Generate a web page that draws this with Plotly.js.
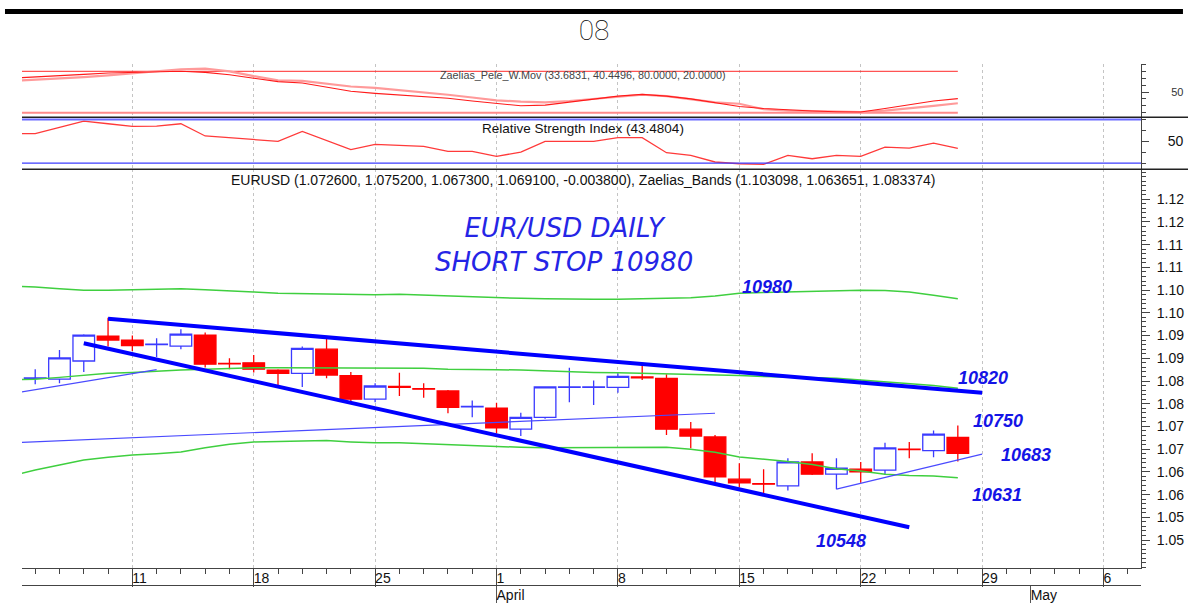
<!DOCTYPE html>
<html><head><meta charset="utf-8">
<script src="https://cdn.plot.ly/plotly-3.0.1.min.js"></script>
<style>html,body{margin:0;padding:0;background:#fff;}#chart{width:1188px;height:616px;}</style>
</head><body><div id="chart"></div>
<script>
// ---------- axis calendar (weekdays) ----------
const axisDays = ['2024-03-04','2024-03-05','2024-03-06','2024-03-07','2024-03-08',
 '2024-03-11','2024-03-12','2024-03-13','2024-03-14','2024-03-15',
 '2024-03-18','2024-03-19','2024-03-20','2024-03-21','2024-03-22',
 '2024-03-25','2024-03-26','2024-03-27','2024-03-28','2024-03-29',
 '2024-04-01','2024-04-02','2024-04-03','2024-04-04','2024-04-05',
 '2024-04-08','2024-04-09','2024-04-10','2024-04-11','2024-04-12',
 '2024-04-15','2024-04-16','2024-04-17','2024-04-18','2024-04-19',
 '2024-04-22','2024-04-23','2024-04-24','2024-04-25','2024-04-26',
 '2024-04-29','2024-04-30','2024-05-01','2024-05-02','2024-05-03',
 '2024-05-06','2024-05-07','2024-05-08','2024-05-09','2024-05-10'];
const weekTickDays = ['2024-03-11','2024-03-18','2024-03-25','2024-04-01','2024-04-08','2024-04-15','2024-04-22','2024-04-29','2024-05-06'];
const weekTickLabels = ['11','18','25','1','8','15','22','29','6'];
const monthTickDays = ['2024-04-01','2024-05-01'];
const monthTickLabels = ['April','May'];

// ---------- EURUSD daily candles ----------
const candleDays = axisDays.slice(1, 40);
const open  = [1.0856,1.0854,1.0894,1.0949,1.0940,1.0930,1.0927,1.0951,1.0889,1.0890,1.0874,1.0867,1.0920,1.0862,1.0810,1.0838,1.0833,1.0828,1.0793,1.0790,1.0744,1.0770,1.0836,1.0836,1.0836,1.0859,1.0856,1.0744,1.0727,1.0634,1.0624,1.0619,1.0672,1.0645,1.0656,1.0654,1.0700,1.0697,1.0726];
const high  = [1.0876,1.0918,1.0953,1.0989,1.0950,1.0944,1.0964,1.0957,1.0900,1.0907,1.0876,1.0926,1.0944,1.0870,1.0845,1.0868,1.0845,1.0830,1.0807,1.0802,1.0780,1.0838,1.0879,1.0851,1.0867,1.0885,1.0865,1.0760,1.0731,1.0669,1.0656,1.0680,1.0691,1.0680,1.0672,1.0714,1.0716,1.0741,1.0752];
const low   = [1.0843,1.0845,1.0870,1.0926,1.0916,1.0903,1.0920,1.0880,1.0876,1.0869,1.0839,1.0837,1.0856,1.0804,1.0803,1.0817,1.0813,1.0779,1.0770,1.0735,1.0729,1.0767,1.0803,1.0797,1.0824,1.0852,1.0731,1.0702,1.0626,1.0616,1.0603,1.0609,1.0643,1.0612,1.0626,1.0643,1.0680,1.0682,1.0673];
const close = [1.0857,1.0901,1.0951,1.0940,1.0928,1.0931,1.0953,1.0887,1.0888,1.0876,1.0867,1.0922,1.0863,1.0810,1.0839,1.0836,1.0832,1.0792,1.0794,1.0747,1.0770,1.0837,1.0837,1.0837,1.0860,1.0857,1.0744,1.0729,1.0639,1.0626,1.0623,1.0672,1.0645,1.0658,1.0650,1.0703,1.0699,1.0733,1.0691];

// ---------- indicators (Mar 4 .. Apr 26) ----------
const indicatorDays = axisDays.slice(0, 40);
const bandUpper  = [1.1059,1.1057,1.1053,1.1050,1.1050,1.1051,1.1052,1.1053,1.1051,1.1049,1.1046,1.1043,1.1042,1.1042,1.1041,1.1040,1.1041,1.1039,1.1037,1.1035,1.1033,1.1032,1.1031,1.1030,1.1030,1.1030,1.1031,1.1031,1.1033,1.1037,1.1043,1.1045,1.1046,1.1047,1.1048,1.1050,1.1049,1.1046,1.1039,1.1031];
const bandMiddle = [1.0853,1.0854,1.0858,1.0862,1.0867,1.0869,1.0872,1.0874,1.0876,1.0878,1.0879,1.0879,1.0879,1.0879,1.0879,1.0878,1.0878,1.0878,1.0876,1.0876,1.0875,1.0874,1.0872,1.0870,1.0869,1.0868,1.0867,1.0865,1.0864,1.0863,1.0862,1.0860,1.0859,1.0858,1.0856,1.0852,1.0848,1.0845,1.0840,1.0834];
const bandLower  = [1.0641,1.0654,1.0665,1.0676,1.0682,1.0687,1.0690,1.0694,1.0703,1.0711,1.0716,1.0717,1.0718,1.0719,1.0716,1.0714,1.0714,1.0712,1.0710,1.0708,1.0705,1.0704,1.0703,1.0703,1.0703,1.0703,1.0704,1.0704,1.0700,1.0693,1.0683,1.0678,1.0673,1.0666,1.0657,1.0652,1.0645,1.0642,1.0641,1.0637];
const peleFast = [70,71.5,73.5,75.5,77.5,78.5,79.5,80,78.5,75,70,65,63,57,51,48,46,44,41,37,33,30,31,35,40,44,46.5,44,40,35,29,26,24,22.5,21.5,21,26,31,37,40.45];
const peleSlow = [66,67.5,69.5,71.5,74,77,80,83,84,80,73,67,66,62,58,56,53,50,46,42,38,36,35,37,40,44,46,44,39,35,33,25,23,22,21.5,21,23,26,30,33.68];
const peleLevels = [80, 20];
const rsi = [57.0,57.0,62.8,68.5,66.1,63.7,63.9,66.1,54.9,53.3,51.7,50.0,59.1,50.7,42.3,47.2,46.3,45.3,40.7,40.7,36.2,40.1,50.0,50.0,50.0,53.3,53.3,39.5,37.1,31.0,29.4,28.8,37.1,34.0,37.1,36.2,44.7,43.8,48.4,43.48];
const rsiLevels = [70, 30];

// ---------- hand-drawn trend lines ----------
const channelTopDays = ['2024-03-08','2024-04-29'];   const channelTopValues = [1.0987,1.0824];
const channelLowDays = ['2024-03-07','2024-04-24'];   const channelLowValues = [1.0933,1.0528];
const thinLeftDays   = ['2024-03-04','2024-03-12'];   const thinLeftValues   = [1.0822,1.0875];
const thinLongDays   = ['2024-03-04','2024-04-12'];   const thinLongValues   = [1.0714,1.0779];
const thinRightDays  = ['2024-04-19','2024-04-29'];   const thinRightValues  = [1.0612,1.0689];

// ---------- price axis ticks ----------
const yTickVals = [1.050,1.055,1.060,1.065,1.070,1.075,1.080,1.085,1.090,1.095,1.100,1.105,1.110,1.115,1.120,1.125];
const yTickText = ['1.05','1.05','1.06','1.06','1.07','1.07','1.08','1.08','1.09','1.09','1.10','1.10','1.11','1.11','1.12','1.12'];

const pos = d => axisDays.indexOf(d);
const P = arr => arr.map(pos);
const FONT = 'Liberation Sans, Arial, sans-serif';
const XR = [0.456, 46.544];
const LBL = {family:FONT, size:18, style:'italic', weight:700, color:'#1414e6'};

const traces = [
  {type:'scatter', mode:'lines', x:P(indicatorDays), y:bandUpper, xaxis:'x', yaxis:'y', line:{color:'#3fcf3f', width:1.5}},
  {type:'scatter', mode:'lines', x:P(indicatorDays), y:bandMiddle, xaxis:'x', yaxis:'y', line:{color:'#3fcf3f', width:1.5}},
  {type:'scatter', mode:'lines', x:P(indicatorDays), y:bandLower, xaxis:'x', yaxis:'y', line:{color:'#3fcf3f', width:1.5}},
  {type:'scatter', mode:'lines', x:P(thinLeftDays), y:thinLeftValues, line:{color:'#4a4aff', width:1.2}},
  {type:'scatter', mode:'lines', x:P(thinLongDays), y:thinLongValues, line:{color:'#4a4aff', width:1.2}},
  {type:'scatter', mode:'lines', x:P(thinRightDays), y:thinRightValues, line:{color:'#4a4aff', width:1.2}},
  {type:'candlestick', x:P(candleDays), open:open, high:high, low:low, close:close, xaxis:'x', yaxis:'y',
   whiskerwidth:0,
   increasing:{line:{color:'#3b3bff', width:1.3}, fillcolor:'#ffffff'},
   decreasing:{line:{color:'#ff0000', width:1.3}, fillcolor:'#ff0000'}},
  {type:'scatter', mode:'lines', x:P(channelTopDays), y:channelTopValues, line:{color:'#0000ff', width:4}},
  {type:'scatter', mode:'lines', x:P(channelLowDays), y:channelLowValues, line:{color:'#0000ff', width:4}},
  // RSI panel
  {type:'scatter', mode:'lines', x:P(indicatorDays), y:rsi, xaxis:'x', yaxis:'y2', line:{color:'#ff3a3a', width:1.3}},
  // Pele panel
  {type:'scatter', mode:'lines', x:[pos(indicatorDays[0]), pos(indicatorDays[indicatorDays.length-1])], y:[peleLevels[0],peleLevels[0]], xaxis:'x', yaxis:'y3', line:{color:'#ff2a2a', width:1}},
  {type:'scatter', mode:'lines', x:[pos(indicatorDays[0]), pos(indicatorDays[indicatorDays.length-1])], y:[peleLevels[1],peleLevels[1]], xaxis:'x', yaxis:'y3', line:{color:'#ff8a8a', width:2}},
  {type:'scatter', mode:'lines', x:P(indicatorDays), y:peleSlow, xaxis:'x', yaxis:'y3', line:{color:'#ff9a9a', width:2.2}},
  {type:'scatter', mode:'lines', x:P(indicatorDays), y:peleFast, xaxis:'x', yaxis:'y3', line:{color:'#ff1a1a', width:1.1}},
  // empty carriers so the label / month axes get drawn
  {type:'scatter', mode:'lines', x:P(weekTickDays), y:weekTickDays.map(()=>null), xaxis:'x2', yaxis:'y'},
  {type:'scatter', mode:'lines', x:P(monthTickDays), y:monthTickDays.map(()=>null), xaxis:'x3', yaxis:'y'},
  {type:'scatter', mode:'lines', x:P(monthTickDays), y:monthTickDays.map(()=>null), xaxis:'x4', yaxis:'y'}
];

const yCommon = {side:'right', anchor:'x', showgrid:false, zeroline:false, showline:true, linecolor:'#444', linewidth:1,
  ticks:'outside', tickcolor:'#444', fixedrange:true};

const layout = {
  width:1188, height:616,
  margin:{l:22, r:47, t:64, b:14},
  paper_bgcolor:'#ffffff', plot_bgcolor:'#ffffff',
  showlegend:false,
  boxgap:0.11, boxgroupgap:0,
  font:{family:FONT, color:'#111'},
  title:{text:'08', x:0.5, xanchor:'center', y:0.951, yanchor:'middle', font:{family:'Roboto, sans-serif', size:28, weight:100, color:'#000'}},
  xaxis:{domain:[0,1], anchor:'y', range:XR, fixedrange:true, rangeslider:{visible:false},
    showgrid:true, gridcolor:'#c4c4c4', griddash:'dot', gridwidth:1, zeroline:false,
    tickmode:'array', tickvals:P(weekTickDays), ticks:'outside', ticklen:18, tickcolor:'#444', showticklabels:false,
    showline:true, linecolor:'#444', linewidth:1.2,
    minor:{tickmode:'linear', tick0:0, dtick:1, ticks:'outside', ticklen:5, tickcolor:'#444', showgrid:false}},
  xaxis2:{overlaying:'x', anchor:'y', range:XR, fixedrange:true, showgrid:false, zeroline:false, showline:false,
    tickmode:'array', tickvals:P(weekTickDays), ticktext:weekTickLabels, ticks:'', ticklabelposition:'outside right',
    tickfont:{family:FONT, size:14, color:'#111'}},
  xaxis3:{overlaying:'x', anchor:'free', position:0.0316, range:XR, fixedrange:true, showgrid:false, zeroline:false,
    showline:true, linecolor:'#444', linewidth:1.2,
    tickmode:'array', tickvals:P(monthTickDays), ticks:'outside', ticklen:17, tickcolor:'#555', showticklabels:false},
  xaxis4:{overlaying:'x', anchor:'free', position:0.0316, range:XR, fixedrange:true, showgrid:false, zeroline:false, showline:false,
    tickmode:'array', tickvals:P(monthTickDays), ticktext:monthTickLabels, ticks:'', ticklabelposition:'outside right',
    tickfont:{family:FONT, size:14, color:'#111'}},
  yaxis:Object.assign({}, yCommon, {domain:[0.0641,0.8043], range:[1.04395,1.1316],
    tickmode:'array', tickvals:yTickVals, ticktext:yTickText, ticklen:8, ticklabelstandoff:4,
    tickfont:{family:FONT, size:14, color:'#111'},
    minor:{tickmode:'linear', tick0:1.05, dtick:0.001, ticks:'outside', ticklen:4, tickcolor:'#444', showgrid:false}}),
  yaxis2:Object.assign({}, yCommon, {domain:[0.8043,0.9009], range:[24.31,72.02],
    tickmode:'array', tickvals:[50], ticktext:['50'], ticklen:7, ticklabelstandoff:16,
    tickfont:{family:FONT, size:14, color:'#111'},
    minor:{tickmode:'linear', tick0:0, dtick:10, ticks:'outside', ticklen:4, tickcolor:'#444', showgrid:false}}),
  yaxis3:Object.assign({}, yCommon, {domain:[0.9009,1], range:[13.33,90.58],
    tickmode:'array', tickvals:[50], ticktext:['50'], ticklen:7, ticklabelstandoff:20,
    tickfont:{family:FONT, size:11, color:'#333'},
    minor:{tickmode:'linear', tick0:0, dtick:10, ticks:'outside', ticklen:4, tickcolor:'#444', showgrid:false}}),
  shapes:[
    {type:'rect', xref:'paper', yref:'paper', x0:-0.0152, x1:1.0375, y0:1.0929, y1:1.1022, fillcolor:'#000', line:{width:0}},
    {type:'line', xref:'paper', yref:'y2', x0:0, x1:1, y0:rsiLevels[0], y1:rsiLevels[0], line:{color:'#6a6aff', width:2}},
    {type:'line', xref:'paper', yref:'y2', x0:0, x1:1, y0:rsiLevels[1], y1:rsiLevels[1], line:{color:'#3c3cff', width:1.2}},
    {type:'line', xref:'paper', yref:'paper', x0:0, x1:1.042, y0:0.9009, y1:0.9009, line:{color:'#222', width:1.5}},
    {type:'line', xref:'paper', yref:'paper', x0:0, x1:1.042, y0:0.8043, y1:0.8043, line:{color:'#222', width:1.5}}
  ],
  annotations:[
    {xref:'paper', yref:'paper', x:0.5009, y:0.979, text:'Zaelias_Pele_W.Mov (33.6831, 40.4496, 80.0000, 20.0000)', showarrow:false, xanchor:'center', yanchor:'middle', font:{family:FONT, size:10.8, color:'#444'}},
    {xref:'paper', yref:'paper', x:0.5009, y:0.881, text:'Relative Strength Index (43.4804)', showarrow:false, xanchor:'center', yanchor:'middle', font:{family:FONT, size:13.5, color:'#111'}},
    {xref:'paper', yref:'paper', x:0.5009, y:0.7844, text:'EURUSD (1.072600, 1.075200, 1.067300, 1.069100, -0.003800), Zaelias_Bands (1.103098, 1.063651, 1.083374)', showarrow:false, xanchor:'center', yanchor:'middle', font:{family:FONT, size:14, color:'#111'}},
    {xref:'paper', yref:'paper', x:0.4844, y:0.6636, text:'EUR/USD DAILY<br>SHORT STOP 10980', showarrow:false, xanchor:'center', yanchor:'middle', align:'center', font:{family:'DejaVu Sans, sans-serif', size:26, style:'italic', weight:200, color:'#2525e6'}},
    {xref:'paper', yref:'paper', x:0.6655, y:0.5864, text:'10980', showarrow:false, xanchor:'center', yanchor:'middle', font:LBL},
    {xref:'paper', yref:'paper', x:0.8592, y:0.4164, text:'10820', showarrow:false, xanchor:'center', yanchor:'middle', font:LBL},
    {xref:'paper', yref:'paper', x:0.8725, y:0.3364, text:'10750', showarrow:false, xanchor:'center', yanchor:'middle', font:LBL},
    {xref:'paper', yref:'paper', x:0.8972, y:0.2732, text:'10683', showarrow:false, xanchor:'center', yanchor:'middle', font:LBL},
    {xref:'paper', yref:'paper', x:0.8710, y:0.1980, text:'10631', showarrow:false, xanchor:'center', yanchor:'middle', font:LBL},
    {xref:'paper', yref:'paper', x:0.7315, y:0.1143, text:'10548', showarrow:false, xanchor:'center', yanchor:'middle', font:LBL}
  ]
};

Plotly.newPlot('chart', traces, layout, {displayModeBar:false, staticPlot:true});
</script>
</body></html>
